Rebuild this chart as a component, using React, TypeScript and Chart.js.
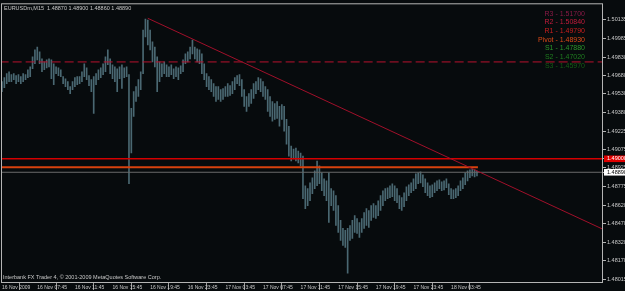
import React, { useEffect, useRef } from "react";
import { Chart, registerables } from "chart.js";
Chart.register(...registerables);

// ---------- data ----------
const symbolTitle = "EURUSDm,M15  1.48870 1.48900 1.48860 1.48890";
const copyrightText = "Interbank FX Trader 4, \u00A9 2001-2009 MetaQuotes Software Corp.";

const firstBar = 1;
const barHighs = [
  1.49629, 1.49662, 1.49694, 1.4971, 1.49686, 1.49694, 1.49678, 1.49686, 1.4967, 1.49694,
  1.49686, 1.49726, 1.4975, 1.49831, 1.49888, 1.49912, 1.49872, 1.49815, 1.49791, 1.49807,
  1.49815, 1.49807, 1.49775, 1.4975, 1.49742, 1.49726, 1.4967, 1.49653, 1.49629, 1.49589,
  1.49629, 1.49662, 1.4967, 1.4967, 1.4971, 1.49775, 1.49742, 1.49678, 1.49645, 1.4967,
  1.49694, 1.49726, 1.49742, 1.49775, 1.49831, 1.49888, 1.49815, 1.49767, 1.4975, 1.49734,
  1.4975, 1.49767, 1.49742, 1.4975, 1.49686, 1.49411, 1.49548, 1.49589, 1.49645, 1.4971,
  1.5005, 1.50139, 1.50131, 1.5005, 1.49953, 1.49912, 1.49831, 1.49791, 1.49775, 1.49791,
  1.49767, 1.4975, 1.49767, 1.49734, 1.4975, 1.49742, 1.49759, 1.49807, 1.49856, 1.49872,
  1.49912, 1.49969, 1.49912, 1.49896, 1.49888, 1.49856, 1.49775, 1.49694, 1.4967, 1.49645,
  1.49613, 1.49589, 1.49589, 1.49564, 1.49573, 1.49589, 1.49613, 1.49597, 1.49629, 1.49662,
  1.49678, 1.49686, 1.49645, 1.49564, 1.49508, 1.49532, 1.49564, 1.49613, 1.49629, 1.49662,
  1.49653, 1.49629, 1.49589, 1.49564, 1.49508, 1.49467, 1.49451, 1.49467, 1.49427, 1.49443,
  1.49427, 1.49322, 1.49265, 1.49103, 1.49079, 1.49087, 1.49063, 1.49047, 1.49022, 1.4878,
  1.48756, 1.48804, 1.48845, 1.48901, 1.48982, 1.48942, 1.48885, 1.48836, 1.4882, 1.48885,
  1.48756, 1.48739, 1.48699, 1.48618, 1.48497, 1.48432, 1.48416, 1.48432, 1.48456, 1.48497,
  1.48537, 1.48513, 1.4848, 1.48513, 1.48561, 1.48594, 1.48578, 1.48618, 1.48634, 1.48618,
  1.48658, 1.48699, 1.48739, 1.48756, 1.48764, 1.4878, 1.48796, 1.4878, 1.48756, 1.48699,
  1.48683, 1.48723, 1.48772, 1.48788, 1.48804, 1.48836, 1.48877, 1.48885, 1.48893, 1.48869,
  1.48836, 1.48804, 1.4878, 1.48788, 1.48804, 1.4882, 1.48828, 1.48812, 1.4882, 1.48836,
  1.48796, 1.48756, 1.48747, 1.48756, 1.4878, 1.4882, 1.48845, 1.48885, 1.48901, 1.48909,
  1.48917, 1.48909, 1.489,
];
const barLows = [
  1.49548, 1.49581, 1.49613, 1.49629, 1.49629, 1.49645, 1.49613, 1.49629, 1.49613, 1.49629,
  1.49645, 1.49662, 1.4967, 1.49734, 1.49775, 1.49807, 1.49775, 1.4971, 1.49726, 1.49742,
  1.4975, 1.49653, 1.49605, 1.49694, 1.49678, 1.4967, 1.49613, 1.49589, 1.49564, 1.49532,
  1.49564, 1.49589, 1.49605, 1.49613, 1.49629, 1.4967, 1.49645, 1.49597, 1.49548, 1.4937,
  1.49605, 1.49645, 1.49662, 1.49686, 1.4971, 1.49767, 1.49694, 1.49653, 1.49629, 1.49548,
  1.49653, 1.49573, 1.49662, 1.4967, 1.48796, 1.49047, 1.49346, 1.49467, 1.49508, 1.49564,
  1.49694, 1.49993, 1.49929, 1.49888, 1.49791, 1.4975, 1.49548, 1.49629, 1.4967, 1.49694,
  1.4967, 1.4967, 1.49686, 1.49653, 1.4967, 1.49645, 1.49694, 1.4971, 1.49775, 1.49791,
  1.49815, 1.49856, 1.49815, 1.49791, 1.49775, 1.49694, 1.49645, 1.49589, 1.49564, 1.49548,
  1.49508, 1.49467, 1.49484, 1.49467, 1.49484, 1.49508, 1.49508, 1.49516, 1.49532, 1.49564,
  1.49613, 1.49597, 1.49508, 1.49427, 1.49387, 1.49427, 1.49451, 1.49492, 1.49532, 1.49564,
  1.49548, 1.49508, 1.49484, 1.49387, 1.49346, 1.49306, 1.49322, 1.4933, 1.49265, 1.49322,
  1.49225, 1.4912, 1.49022, 1.48982, 1.48998, 1.48982, 1.48966, 1.48942, 1.48675, 1.48594,
  1.48618, 1.48658, 1.48715, 1.48756, 1.4878, 1.48796, 1.48739, 1.48699, 1.48658, 1.4848,
  1.48618, 1.48578, 1.48456, 1.484, 1.48335, 1.48294, 1.48278, 1.48068, 1.48335, 1.48351,
  1.484, 1.48391, 1.48359, 1.484, 1.48432, 1.48456, 1.4844, 1.48497, 1.48521, 1.48513,
  1.48537, 1.48578, 1.48618, 1.48658, 1.48675, 1.48683, 1.48691, 1.48658, 1.48642, 1.48594,
  1.48578, 1.4861, 1.48658, 1.48699, 1.48723, 1.48739, 1.48756, 1.48796, 1.48804, 1.48772,
  1.48723, 1.48699, 1.48683, 1.48691, 1.48723, 1.48739, 1.48756, 1.48739, 1.48747, 1.48764,
  1.48707, 1.48675, 1.48675, 1.48683, 1.48699, 1.48739, 1.48756, 1.48788, 1.4882, 1.48845,
  1.48861, 1.48853, 1.4886,
];

const timeTickBars = [1, 16, 32, 48, 64, 80, 96, 112, 128, 144, 160, 176, 192];
const timeTickLabels = [
  "16 Nov 2009", "16 Nov 07:45", "16 Nov 11:45", "16 Nov 15:45", "16 Nov 19:45",
  "16 Nov 23:45", "17 Nov 03:45", "17 Nov 07:45", "17 Nov 11:45", "17 Nov 15:45",
  "17 Nov 19:45", "17 Nov 23:45", "18 Nov 03:45",
];
const lastVisibleBar = 256.6;

const priceTicks = [
  1.48015, 1.4817, 1.4832, 1.4847, 1.4862, 1.48775, 1.4889, 1.48925, 1.49, 1.49075,
  1.49225, 1.4938, 1.4953, 1.4968, 1.4983, 1.49985, 1.50135,
];
const priceMin = 1.47995;
const priceMax = 1.5026;

const pivotNames = ["R3", "R2", "R1", "Pivot", "S1", "S2", "S3"];
const pivotValues = [1.517, 1.5084, 1.4979, 1.4893, 1.4788, 1.4702, 1.4597];
const pivotColors = ["#8a1a46", "#c41c3c", "#cc1f1f", "#dc4a18", "#2a962a", "#1f7d1f", "#145f14"];

const horizontalLevel = 1.49;
const bidPrice = 1.4889;
const pivotLineEndBar = 203.4;
const trendBars = [63, 256.6];
const trendPrices = [1.50146, 1.48425];

// ---------- helpers ----------
const BG = "#070b0d";
const FG = "#c8c8c8";
const FONT = "'Liberation Sans', Arial, sans-serif";
const near = (a: number, b: number) => Math.abs(a - b) < 1e-7;

const overlayPlugin = {
  id: "mtOverlay",
  beforeDraw(chart: any) {
    const { ctx, width, height } = chart;
    ctx.save();
    ctx.fillStyle = BG;
    ctx.fillRect(0, 0, width, height);
    ctx.restore();
  },
  afterDraw(chart: any) {
    const { ctx, chartArea: a } = chart;
    ctx.save();
    ctx.strokeStyle = "#b4b4b4";
    ctx.lineWidth = 1;
    ctx.strokeRect(a.left - 0.5, a.top - 0.5, a.right - a.left, a.bottom - a.top + 1);
    ctx.fillStyle = FG;
    ctx.font = `5.5px ${FONT}`;
    ctx.textBaseline = "middle";
    ctx.textAlign = "left";
    ctx.fillText(symbolTitle, a.left + 2, a.top + 4.5);
    ctx.fillText(copyrightText, a.left + 1, a.bottom - 5);
    ctx.font = `7px ${FONT}`;
    ctx.textAlign = "right";
    pivotNames.forEach((n, k) => {
      ctx.fillStyle = pivotColors[k];
      ctx.fillText(`${n} - ${pivotValues[k].toFixed(5)}`, a.right - 18, a.top + 9.5 + k * 8.67);
    });
    ctx.restore();
  },
};

export default function App() {
  const ref = useRef<HTMLCanvasElement | null>(null);
  useEffect(() => {
    document.body.style.margin = "0";
    document.body.style.background = BG;
    const canvas = ref.current!;
    const bars = barHighs.map((h, k) => ({ x: firstBar + k, y: [barLows[k], h] }));
    const hLine = (p: number, x0: number, x1: number) => [
      { x: x0, y: p },
      { x: x1, y: p },
    ];
    const lineBase = { type: "line", pointRadius: 0, fill: false, tension: 0, order: 0 };
    const chart = new Chart(canvas, {
      type: "bar",
      data: {
        datasets: [
          {
            ...lineBase,
            label: "trend",
            data: trendBars.map((b, k) => ({ x: b, y: trendPrices[k] })),
            borderColor: "#a0102a",
            borderWidth: 1,
          },
          {
            ...lineBase,
            label: "pivot",
            data: hLine(pivotValues[3], firstBar - 1, pivotLineEndBar),
            borderColor: "#d8420e",
            borderWidth: 2,
          },
          {
            ...lineBase,
            label: "level",
            data: hLine(horizontalLevel, firstBar - 1, lastVisibleBar + 1),
            borderColor: "#d40000",
            borderWidth: 1.5,
          },
          {
            ...lineBase,
            label: "R1",
            data: hLine(pivotValues[2], firstBar - 1, lastVisibleBar + 1),
            borderColor: "#b8122e",
            borderWidth: 1,
            borderDash: [9, 4],
          },
          {
            ...lineBase,
            label: "bid",
            data: hLine(bidPrice, firstBar - 1, lastVisibleBar + 1),
            borderColor: "#6a6a6a",
            borderWidth: 1,
          },
          {
            type: "bar",
            label: "EURUSD",
            data: bars,
            backgroundColor: "#4a6872",
            borderWidth: 0,
            barThickness: 1,
            order: 10,
          },
        ] as any,
      },
      options: {
        responsive: false,
        animation: false,
        events: [],
        layout: { padding: { left: 2, top: 2, right: 0, bottom: 0 } },
        plugins: { legend: { display: false }, tooltip: { enabled: false } },
        scales: {
          x: {
            type: "linear",
            min: firstBar,
            max: lastVisibleBar,
            offset: false,
            border: { display: false },
            grid: { drawOnChartArea: false, tickLength: 8, color: "#9a9a9a", lineWidth: 1 },
            ticks: {
              color: FG,
              font: { family: FONT, size: 5 },
              padding: -5,
              align: "start",
              maxRotation: 0,
              autoSkip: false,
              callback: (_v: any, i: number) => timeTickLabels[i],
            },
            afterBuildTicks: (s: any) => {
              s.ticks = timeTickBars.map((v) => ({ value: v }));
            },
            afterFit: (s: any) => {
              s.height = 9;
            },
          },
          y: {
            type: "linear",
            position: "right",
            min: priceMin,
            max: priceMax,
            border: { display: false },
            grid: { drawOnChartArea: false, tickLength: 3, color: "#b4b4b4" },
            ticks: {
              font: { family: FONT, size: 5.5 },
              padding: 1,
              color: (c: any) =>
                near(c.tick.value, horizontalLevel) ? "#ffffff" : near(c.tick.value, bidPrice) ? "#000000" : FG,
              showLabelBackdrop: (c: any) => near(c.tick.value, horizontalLevel) || near(c.tick.value, bidPrice),
              backdropColor: (c: any) => (near(c.tick.value, horizontalLevel) ? "#e00000" : "#ffffff"),
              backdropPadding: { left: 3, right: 6, top: 0, bottom: 0 },
              callback: (v: any) => Number(v).toFixed(5),
            },
            afterBuildTicks: (s: any) => {
              s.ticks = priceTicks.map((v) => ({ value: v }));
            },
            afterFit: (s: any) => {
              s.width = 22;
            },
          },
        },
      } as any,
      plugins: [overlayPlugin],
    });
    return () => chart.destroy();
  }, []);
  return (
    <div style={{ width: 625, height: 291, background: BG }}>
      <canvas ref={ref} width={625} height={291} style={{ display: "block" }} />
    </div>
  );
}
